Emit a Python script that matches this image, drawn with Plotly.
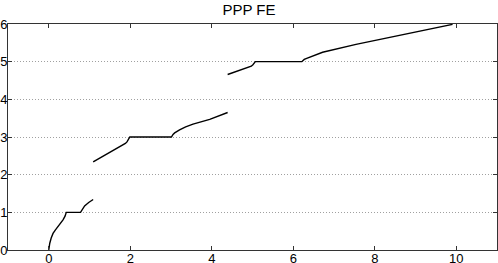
import plotly.graph_objects as go

seg1_x = [0.0, 0.01, 0.025, 0.06, 0.105, 0.16, 0.23, 0.35, 0.40, 0.42, 0.43, 0.78, 0.80, 0.82, 0.85, 0.88, 0.98, 1.09]
seg1_y = [0.0, 0.10, 0.18, 0.32, 0.44, 0.53, 0.62, 0.80, 0.90, 0.96, 1.0, 1.0, 1.04, 1.08, 1.13, 1.17, 1.26, 1.34]

seg2_x = [1.09, 1.50, 1.82, 1.88, 1.92, 1.95, 1.97, 1.99, 3.01, 3.02, 3.05, 3.09, 3.13, 3.21, 3.36, 3.54, 3.95, 4.39]
seg2_y = [2.34, 2.59, 2.79, 2.83, 2.87, 2.92, 2.97, 3.0, 3.0, 3.03, 3.07, 3.11, 3.14, 3.19, 3.27, 3.34, 3.47, 3.65]

seg3_x = [4.39, 4.68, 4.90, 4.97, 5.01, 5.04, 5.07, 6.21, 6.23, 6.27, 6.33, 6.40, 6.55, 6.72, 7.54, 8.36, 9.17, 9.91]
seg3_y = [4.66, 4.76, 4.85, 4.88, 4.92, 4.96, 5.0, 5.0, 5.03, 5.06, 5.09, 5.12, 5.19, 5.25, 5.46, 5.65, 5.82, 5.99]

x_ticks = [0, 2, 4, 6, 8, 10]
y_ticks = [0, 1, 2, 3, 4, 5, 6]

fig = go.Figure()
for xs, ys in [(seg1_x, seg1_y), (seg2_x, seg2_y), (seg3_x, seg3_y)]:
    fig.add_trace(go.Scatter(x=xs, y=ys, mode="lines",
                             line=dict(color="black", width=1.4),
                             showlegend=False, hoverinfo="skip"))

fig.update_layout(
    width=498, height=263,
    margin=dict(l=8, r=1, t=24, b=13),
    paper_bgcolor="white", plot_bgcolor="white",
    title=dict(text="PPP FE", x=0.5, xanchor="center", y=0.962, yanchor="middle",
               font=dict(family="Liberation Sans, Arial", size=15, color="black")),
    font=dict(family="Liberation Sans, Arial", size=13, color="black"),
)
fig.update_xaxes(range=[-1, 11], tickvals=x_ticks, ticks="inside", ticklen=4,
                 tickcolor="#333", showgrid=False, zeroline=False,
                 showline=True, linecolor="#333", linewidth=1, mirror="allticks",
                 tickfont=dict(size=13), automargin=False, ticklabelstandoff=-4)
fig.update_yaxes(range=[0, 6], tickvals=y_ticks, ticks="inside", ticklen=4,
                 tickcolor="#333", showgrid=True, gridcolor="#a0a0a0", griddash="1px,2px",
                 gridwidth=1, zeroline=False,
                 showline=True, linecolor="#333", linewidth=1, mirror="allticks",
                 tickfont=dict(size=13), automargin=False, ticklabelstandoff=-3)

fig.write_html("out.html", config={"displayModeBar": False},
               post_script="document.body.style.margin='0';document.body.style.padding='0';")
